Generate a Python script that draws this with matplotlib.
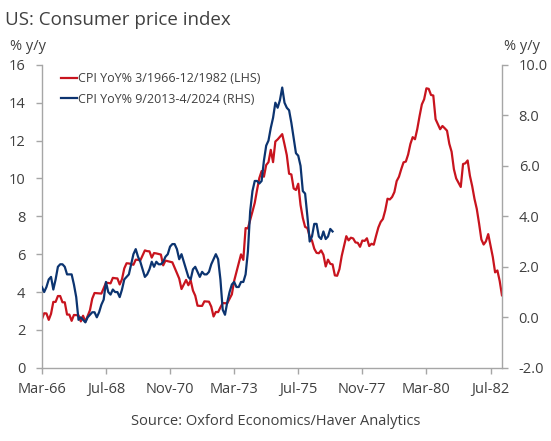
import matplotlib
matplotlib.use("Agg")
import matplotlib.pyplot as plt
import numpy as np

plt.rcParams['font.family'] = ['Open Sans', 'DejaVu Sans']

# Red series: CPI YoY% Mar-1966 .. Dec-1982 (LHS)
cpi_1966_1982 = [
    2.56, 2.88, 2.87, 2.53, 2.85, 3.48, 3.48, 3.79, 3.79, 3.46,
    3.46, 2.81, 2.81, 2.48, 2.79, 2.78, 2.77, 2.45, 2.75, 2.43, 2.74, 3.04,
    3.65, 3.95, 3.94, 3.93, 3.92, 4.20, 4.49, 4.48, 4.46, 4.75, 4.73, 4.72,
    4.40, 4.68, 5.25, 5.52, 5.51, 5.48, 5.44, 5.71, 5.70, 5.67, 5.93, 6.20,
    6.16, 6.15, 5.82, 6.06, 6.04, 6.01, 5.98, 5.41, 5.66, 5.63, 5.60, 5.57,
    5.29, 5.00, 4.71, 4.16, 4.40, 4.64, 4.36, 4.62, 4.08, 3.81, 3.28, 3.27,
    3.27, 3.51, 3.50, 3.49, 3.23, 2.71, 2.95, 2.94, 3.19, 3.42, 3.41, 3.41,
    3.65, 3.88, 4.59, 5.06, 5.53, 5.99, 5.70, 7.38, 7.36, 7.80, 8.25, 8.71,
    9.39, 10.02, 10.39, 10.09, 10.71, 10.86, 11.51, 10.86, 11.95, 12.06, 12.20, 12.34,
    11.80, 11.23, 10.25, 10.21, 9.47, 9.39, 9.72, 8.60, 7.91, 7.44, 7.38, 6.94,
    6.72, 6.29, 6.07, 6.05, 6.20, 5.97, 5.35, 5.71, 5.49, 5.46, 4.88, 4.86,
    5.21, 5.91, 6.44, 6.95, 6.73, 6.87, 6.83, 6.62, 6.60, 6.39, 6.72, 6.70,
    6.84, 6.43, 6.55, 6.50, 6.97, 7.41, 7.70, 7.86, 8.31, 8.93, 8.89, 9.02,
    9.28, 9.86, 10.09, 10.49, 10.85, 10.89, 11.26, 11.82, 12.18, 12.07, 12.61, 13.29,
    13.91, 14.18, 14.76, 14.73, 14.41, 14.38, 13.13, 12.87, 12.60, 12.77, 12.65, 12.52,
    11.83, 11.41, 10.49, 10.00, 9.78, 9.55, 10.76, 10.80, 10.95, 10.14, 9.59, 8.92,
    8.39, 7.62, 6.78, 6.51, 6.68, 7.06, 6.44, 5.85, 5.04, 5.14, 4.59, 3.83,
]

# Blue series: CPI YoY% Sep-2013 .. Apr-2024 (RHS)
cpi_2013_2024 = [
    1.2, 1.0, 1.2, 1.5,
    1.6, 1.1, 1.5, 2.0, 2.1, 2.1, 2.0, 1.7, 1.7, 1.7, 1.3, 0.8,
    -0.1, 0.0, -0.1, -0.2, 0.0, 0.1, 0.2, 0.2, 0.0, 0.2, 0.5, 0.7,
    1.4, 1.0, 0.9, 1.1, 1.0, 1.0, 0.8, 1.1, 1.5, 1.6, 1.7, 2.1,
    2.5, 2.7, 2.4, 2.2, 1.9, 1.6, 1.7, 1.9, 2.2, 2.0, 2.2, 2.1,
    2.1, 2.2, 2.4, 2.5, 2.8, 2.9, 2.9, 2.7, 2.3, 2.5, 2.2, 1.9,
    1.6, 1.5, 1.9, 2.0, 1.8, 1.6, 1.8, 1.7, 1.7, 1.8, 2.1, 2.3,
    2.5, 2.3, 1.5, 0.3, 0.1, 0.6, 1.0, 1.3, 1.4, 1.2, 1.2, 1.4,
    1.4, 1.7, 2.6, 4.2, 5.0, 5.4, 5.4, 5.3, 5.4, 6.2, 6.8, 7.0,
    7.5, 7.9, 8.5, 8.3, 8.6, 9.1, 8.5, 8.3, 8.2, 7.7, 7.1, 6.5,
    6.4, 6.0, 5.0, 4.9, 4.0, 3.0, 3.2, 3.7, 3.7, 3.2, 3.1, 3.4,
    3.1, 3.2, 3.5, 3.4,
]

x_tick_labels = ["Mar-66", "Jul-68", "Nov-70", "Mar-73", "Jul-75", "Nov-77", "Mar-80", "Jul-82"]
left_ticks = [0, 2, 4, 6, 8, 10, 12, 14, 16]
right_ticks = [-2.0, 0.0, 2.0, 4.0, 6.0, 8.0, 10.0]

RED = "#C8141E"
BLUE = "#0C3470"
GRAY = "#A6A6A6"
TXT = "#404040"

fig = plt.figure(figsize=(5.51, 4.41), dpi=100)
ax = fig.add_axes([0.076, 0.166, 0.835, 0.687])
ax2 = ax.twinx()

xr = np.arange(len(cpi_1966_1982))
xb = np.arange(len(cpi_2013_2024))
l1, = ax.plot(xr, cpi_1966_1982, color=RED, lw=1.6, solid_joinstyle='round',
              label="CPI YoY% 3/1966-12/1982 (LHS)")
l2, = ax2.plot(xb, cpi_2013_2024, color=BLUE, lw=1.6, solid_joinstyle='round',
               label="CPI YoY% 9/2013-4/2024 (RHS)")

ax.set_xlim(0, len(cpi_1966_1982) - 1)
ax.set_ylim(0, 16)
ax2.set_ylim(-2, 10)
ax.set_xticks(np.arange(len(x_tick_labels)) * 28)
ax.set_xticklabels(x_tick_labels)
ax.set_yticks(left_ticks)
ax.set_yticklabels([str(v) for v in left_ticks])
ax2.set_yticks(right_ticks)
ax2.set_yticklabels([f"{v:.1f}" for v in right_ticks])

for a in (ax, ax2):
    for s in a.spines.values():
        s.set_color(GRAY)
        s.set_linewidth(1.0)
    a.spines['top'].set_visible(False)
    a.tick_params(colors=GRAY, labelcolor=TXT, labelsize=10.5, length=4, width=1.0, direction='out')
ax.spines['right'].set_visible(False)
ax2.spines['left'].set_visible(False)
ax2.spines['bottom'].set_visible(False)
ax.tick_params(axis='x', pad=6)
ax.tick_params(axis='y', pad=8)
ax2.tick_params(axis='y', pad=8)

leg = ax.legend(handles=[l1, l2], loc='upper left', bbox_to_anchor=(0.025, 1.0),
                frameon=False, fontsize=9, handlelength=1.3, handletextpad=0.1,
                labelspacing=0.6, borderaxespad=0.2)
for t in leg.get_texts():
    t.set_color(TXT)

fig.text(0.009, 0.955, "US: Consumer price index", fontsize=13.5, color=TXT, va='center', ha='left')
fig.text(0.018, 0.895, "% y/y", fontsize=10.5, color=TXT, va='center', ha='left')
fig.text(0.915, 0.895, "% y/y", fontsize=10.5, color=TXT, va='center', ha='left')
fig.text(0.5, 0.045, "Source: Oxford Economics/Haver Analytics", fontsize=10.5, color=TXT,
         va='center', ha='center')

fig.savefig("out.png", dpi=100, facecolor='white')
